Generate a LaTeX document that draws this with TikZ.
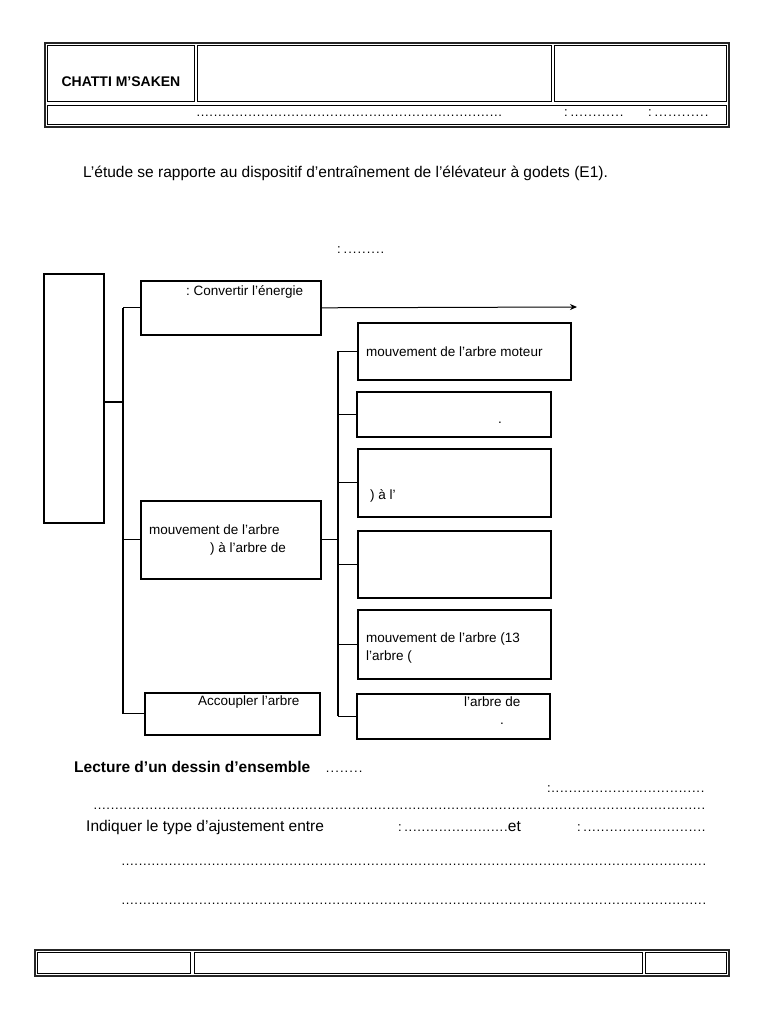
\documentclass[tikz,border=0pt]{standalone}
\usepackage{fontspec}
\setmainfont{Liberation Sans}
\usetikzlibrary{arrows.meta}
\frenchspacing
\newcommand{\dotrow}[1]{\hbox to #1{\xleaders\hbox to 4.3pt{\hss.\hss}\hfill}}
\newcommand{\boxfont}{\fontsize{13.5}{16}\selectfont}
\newcommand{\bodyfont}{\fontsize{15.5}{18}\selectfont}
\newcommand{\headfont}{\fontsize{13}{15}\selectfont}
\tikzset{frame/.style={draw=black!85,line width=1.2pt},
  cell/.style={draw,line width=0.9pt},
  blk/.style={draw,line width=1.6pt,inner sep=0pt,anchor=north west},
  wire/.style={line width=1.3pt},
  flow/.style={line width=1pt,-{Stealth[length=7pt,width=6pt]}},
  txt/.style={inner sep=0pt,anchor=base west,font=\boxfont},
  bodytxt/.style={inner sep=0pt,anchor=base west,font=\bodyfont},
  headtxt/.style={inner sep=0pt,anchor=base west,font=\headfont}}

\begin{document}
\begin{tikzpicture}[x=1pt,y=-1pt]
  \fill[white] (0,0) rectangle (768,1024);
  \useasboundingbox (0,0) rectangle (768,1024);
  % header table
  \draw[frame] (45,43) rectangle (729,127);
  \draw[cell] (47.5,45.5) rectangle (194.5,101.5);
  \draw[cell] (197.5,45.5) rectangle (551,101.5);
  \draw[cell] (554,45.5) rectangle (726.5,101.5);
  \draw[cell] (47.5,105) rectangle (726.5,124.5);
  \node[font=\fontsize{14}{16}\selectfont\bfseries,inner sep=0pt] (school) at (121,82) {CHATTI M’SAKEN};
  \node[headtxt] (hdots) at (196,117) {\dotrow{306pt}};
  \node[headtxt] (hdate) at (564,117) {:\,\dotrow{54pt}};
  \node[headtxt] (hclass) at (648,117) {:\,\dotrow{55pt}};
  % intro
  \node[bodytxt] (intro) at (83,178) {L’étude se rapporte au dispositif d’entraînement de l’élévateur à godets (E1).};
  \node[headtxt] (fastdots) at (337,253) {:\,\dotrow{42pt}};
  % function diagram
  \node[blk,minimum width=60,minimum height=249] (big) at (43,273) {};
  \node[blk,minimum width=180,minimum height=54] (conv) at (140,280) {};
  \node[blk,minimum width=180,minimum height=78] (mid) at (140,500) {};
  \node[blk,minimum width=175,minimum height=42] (acc) at (144,692) {};
  \node[blk,minimum width=213,minimum height=57] (r1) at (357,322) {};
  \node[blk,minimum width=194,minimum height=45] (r2) at (356,391) {};
  \node[blk,minimum width=193,minimum height=68] (r3) at (357,448) {};
  \node[blk,minimum width=193,minimum height=67] (r4) at (357,530) {};
  \node[blk,minimum width=193,minimum height=69] (r5) at (357,609) {};
  \node[blk,minimum width=193,minimum height=45] (r6) at (356,693) {};
  \node[txt] (convtxt) at (186,295) {: Convertir l’énergie};
  \node[txt] (midtxta) at (149,534) {mouvement de l’arbre};
  \node[txt] (midtxtb) at (210,552) {) à l’arbre de};
  \node[txt] (acctxt) at (198,705) {Accoupler l’arbre};
  \node[txt] (r1txt) at (366,356) {mouvement de l’arbre moteur};
  \node[txt] (r2dot) at (498,423) {.};
  \node[txt] (r3txt) at (370,499) {) à l’};
  \node[txt] (r5txta) at (366,642) {mouvement de l’arbre (13};
  \node[txt] (r5txtb) at (366,660) {l’arbre (};
  \node[txt] (r6txt) at (464,706) {l’arbre de};
  \node[txt] (r6dot) at (500,724) {.};
  \coordinate (busL) at (123,0);
  \coordinate (busR) at (338,0);
  \coordinate (tapL) at (123,402);
  \coordinate (tip) at (577,307);
  \draw[wire] (conv.west -| busL) -- (acc.west -| busL);
  \draw[wire] (tapL) -- (tapL -| big.east);
  \foreach \b in {conv,mid,acc}
    \draw[wire] (\b.west) -- (\b.west -| busL);
  \draw[wire] (r1.west -| busR) -- (r6.west -| busR);
  \foreach \b in {r1,r2,r3,r4,r5,r6}
    \draw[wire] (\b.west) -- (\b.west -| busR);
  \draw[wire] (mid.east) -- (mid.east -| busR);
  \draw[flow] (conv.east) -- (tip);
  % reading questions
  \node[bodytxt,font=\bodyfont\bfseries] (lecture) at (74,772) {Lecture d’un dessin d’ensemble};
  \node[headtxt] (lecdots) at (325,772) {\dotrow{38pt}};
  \node[headtxt] (q1) at (547,792) {:\dotrow{154pt}};
  \node[headtxt] (q1line) at (93,809) {\dotrow{612pt}};
  \node[bodytxt] (adjust) at (86,831) {Indiquer le type d’ajustement entre};
  \node[headtxt] (adja) at (398,831) {:\,\dotrow{104pt}\fontsize{15.5}{18}\selectfont et};
  \node[headtxt] (adjb) at (577,831) {:\,\dotrow{123pt}};
  \node[headtxt] (line2) at (121,865) {\dotrow{585pt}};
  \node[headtxt] (line3) at (121,904) {\dotrow{585pt}};
  % footer table
  \draw[frame] (35,950) rectangle (729,976);
  \draw[cell] (37.5,952.5) rectangle (190.5,973.5);
  \draw[cell] (194,952.5) rectangle (642.5,973.5);
  \draw[cell] (645.5,952.5) rectangle (726.5,973.5);
\end{tikzpicture}
\end{document}
